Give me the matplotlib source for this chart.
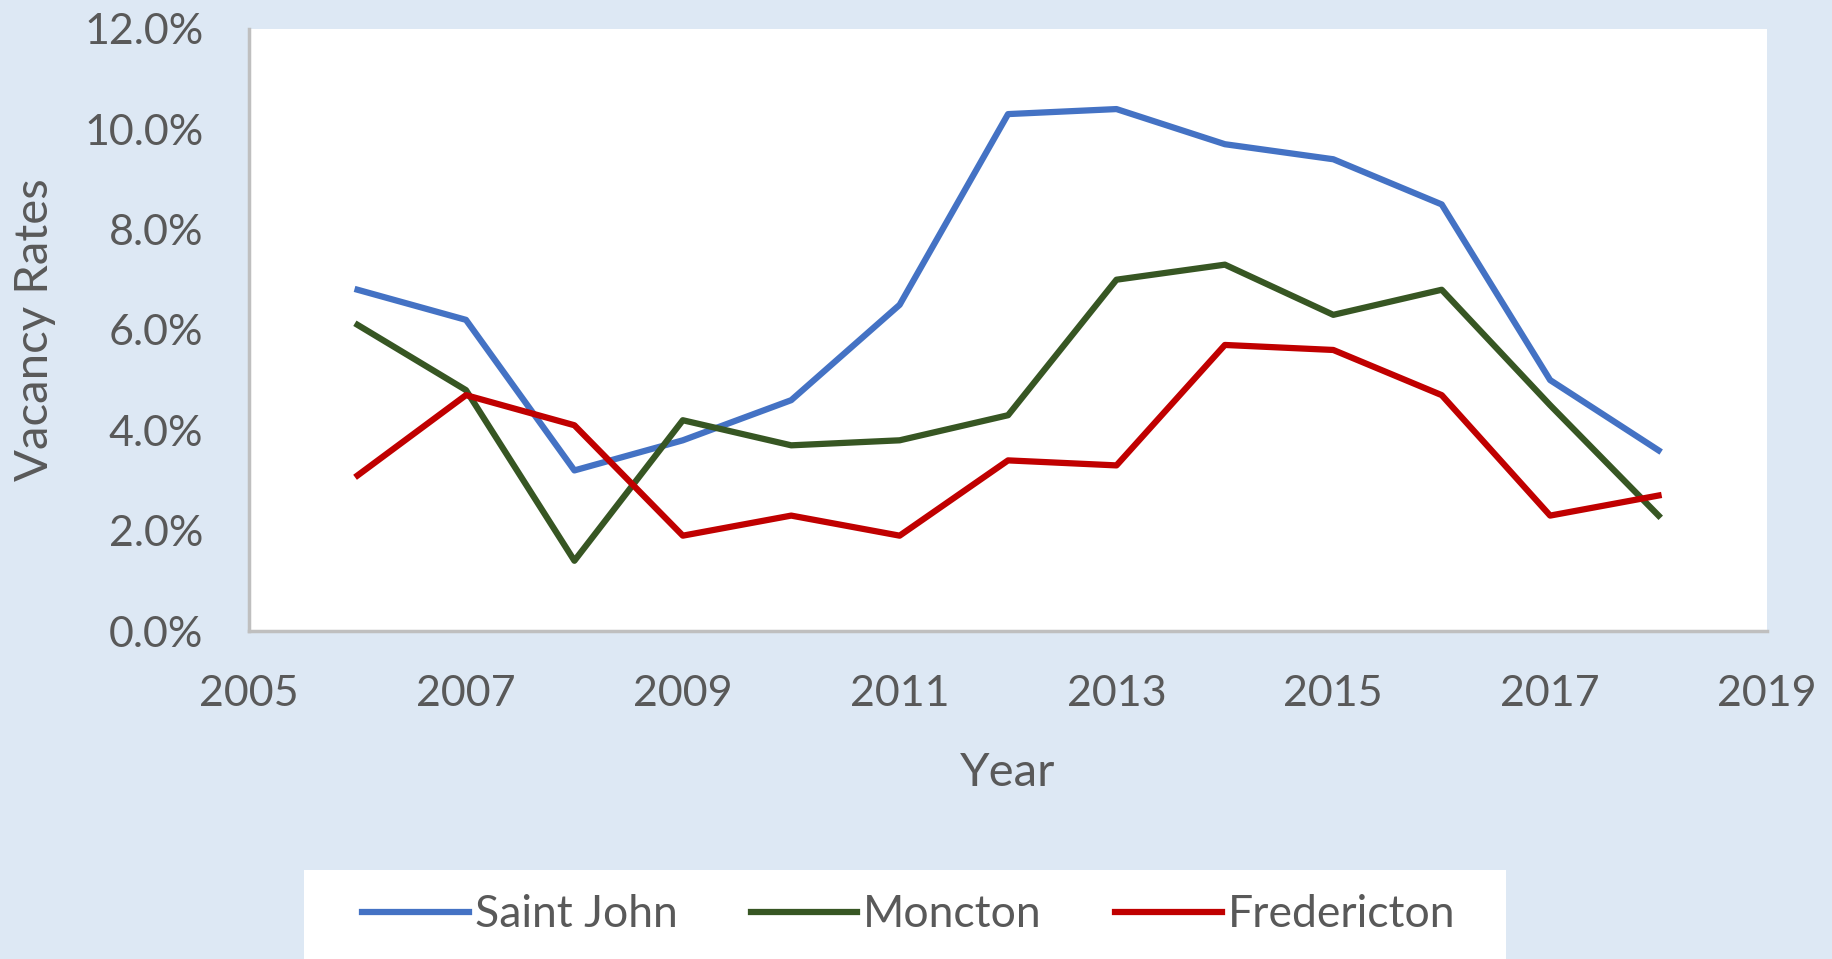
import matplotlib.pyplot as plt
from matplotlib.patches import Rectangle
from matplotlib.ticker import FuncFormatter

plt.rcParams['font.family'] = ['Lato', 'DejaVu Sans']

years = [2006, 2007, 2008, 2009, 2010, 2011, 2012, 2013, 2014, 2015, 2016, 2017, 2018]
saint_john = [6.8, 6.2, 3.2, 3.8, 4.6, 6.5, 10.3, 10.4, 9.7, 9.4, 8.5, 5.0, 3.6]
moncton = [6.1, 4.8, 1.4, 4.2, 3.7, 3.8, 4.3, 7.0, 7.3, 6.3, 6.8, 4.5, 2.3]
fredericton = [3.1, 4.7, 4.1, 1.9, 2.3, 1.9, 3.4, 3.3, 5.7, 5.6, 4.7, 2.3, 2.7]

bg = '#dde8f4'
grey = '#595959'

fig = plt.figure(figsize=(18.32, 9.59), dpi=100, facecolor=bg)
ax = fig.add_axes([0.136, 0.342, 0.8285, 0.628])
ax.set_facecolor('white')

ax.plot(years, saint_john, color='#4472c4', lw=4.5, label='Saint John')
ax.plot(years, moncton, color='#375623', lw=4.5, label='Moncton')
ax.plot(years, fredericton, color='#c00000', lw=4.5, label='Fredericton')

ax.set_xlim(2005, 2019)
ax.set_ylim(0, 12)
ax.set_xticks(range(2005, 2020, 2))
ax.set_yticks(range(0, 13, 2))
ax.yaxis.set_major_formatter(FuncFormatter(lambda v, p: f'{v:.1f}%'))
ax.tick_params(length=0, labelsize=31, labelcolor=grey)
ax.tick_params(axis='y', pad=33)
ax.tick_params(axis='x', pad=32)

for s in ['top', 'right']:
    ax.spines[s].set_visible(False)
for s in ['left', 'bottom']:
    ax.spines[s].set_color('#bfbfbf')
    ax.spines[s].set_linewidth(2.5)

ax.set_xlabel('Year', fontsize=34, color=grey, labelpad=28)
ax.set_ylabel('Vacancy Rates', fontsize=34, color=grey, labelpad=20)

# legend box
fig.patches.append(Rectangle((0.166, 0.0), 0.656, 0.093, transform=fig.transFigure,
                             facecolor='white', edgecolor='none'))
fig.legend(loc='center', bbox_to_anchor=(0.496, 0.046), ncol=3, frameon=False,
           fontsize=32, labelcolor=grey, handlelength=2.4, handletextpad=0.13,
           columnspacing=1.65)

fig.savefig('out.png', dpi=100, facecolor=bg)
